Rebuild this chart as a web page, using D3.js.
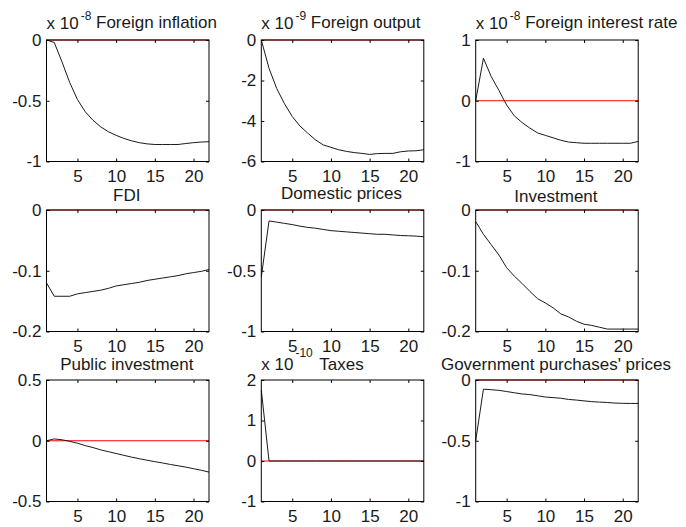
<!DOCTYPE html>
<html><head><meta charset="utf-8">
<script src="https://cdn.jsdelivr.net/npm/d3@7"></script>
<style>
body{margin:0;background:#fff;}
svg{font-family:"Liberation Sans",Arial,Helvetica,sans-serif;}
</style></head>
<body>
<script>
const periods = [1,2,3,4,5,6,7,8,9,10,11,12,13,14,15,16,17,18,19,20,21,22];
const xTicks = [5,10,15,20];

const titles = ["Foreign inflation","Foreign output","Foreign interest rate","FDI","Domestic prices","Investment","Public investment","Taxes","Government purchases' prices"];
const exponents = ["-8","-9","-8",null,null,null,null,"-10",null];
const yDomains = [[-1,0],[-6,0],[-1,1],[-0.2,0],[-1,0],[-0.2,0],[-0.5,0.5],[-1,2],[-1,0]];
const yTicks = [[-1,-0.5,0],[-6,-4,-2,0],[-1,0,1],[-0.2,-0.1,0],[-1,-0.5,0],[-0.2,-0.1,0],[-0.5,0,0.5],[-1,0,1,2],[-1,-0.5,0]];

const foreignInflation = [0,-0.02,-0.18,-0.35,-0.49,-0.59,-0.66,-0.715,-0.755,-0.785,-0.81,-0.83,-0.845,-0.855,-0.86,-0.86,-0.86,-0.86,-0.852,-0.845,-0.84,-0.837];
const foreignOutput = [0,-1.4,-2.4,-3.15,-3.78,-4.25,-4.6,-4.93,-5.18,-5.3,-5.42,-5.5,-5.56,-5.6,-5.65,-5.61,-5.6,-5.6,-5.52,-5.48,-5.47,-5.42];
const foreignInterest = [0,0.70,0.40,0.17,-0.07,-0.25,-0.36,-0.45,-0.53,-0.57,-0.61,-0.65,-0.68,-0.69,-0.70,-0.70,-0.70,-0.70,-0.70,-0.70,-0.70,-0.67];
const fdi = [-0.12,-0.142,-0.142,-0.142,-0.138,-0.136,-0.134,-0.132,-0.129,-0.125,-0.123,-0.121,-0.119,-0.116,-0.114,-0.112,-0.110,-0.108,-0.105,-0.103,-0.101,-0.098];
const domesticPrices = [-0.55,-0.09,-0.10,-0.11,-0.12,-0.133,-0.143,-0.15,-0.16,-0.17,-0.175,-0.18,-0.185,-0.19,-0.195,-0.20,-0.20,-0.205,-0.21,-0.212,-0.215,-0.22];
const investment = [-0.019,-0.04,-0.057,-0.074,-0.095,-0.109,-0.121,-0.134,-0.146,-0.153,-0.161,-0.171,-0.176,-0.183,-0.188,-0.19,-0.193,-0.196,-0.196,-0.196,-0.196,-0.196];
const publicInvestment = [0,0.015,0.008,-0.005,-0.02,-0.04,-0.056,-0.075,-0.09,-0.105,-0.12,-0.135,-0.148,-0.16,-0.172,-0.183,-0.195,-0.206,-0.217,-0.23,-0.243,-0.258];
const taxes = [1.75,0,0,0,0,0,0,0,0,0,0,0,0,0,0,0,0,0,0,0,0,0];
const govPrices = [-0.5,-0.075,-0.08,-0.085,-0.095,-0.105,-0.115,-0.12,-0.13,-0.14,-0.145,-0.15,-0.16,-0.165,-0.172,-0.178,-0.182,-0.185,-0.19,-0.192,-0.193,-0.193];

const seriesList = [foreignInflation,foreignOutput,foreignInterest,fdi,domesticPrices,investment,publicInvestment,taxes,govPrices];

const W = 686, H = 527;
const colLeft = [46.5, 261.3, 475.7], rowTop = [40, 210, 380];
const pw = 162.5, ph = 121.5;
const titleOffset = [-12.5,-12.5,-12.5,-9,-11.5,-8.5,-10.5,-10,-10.5];
const FS = 17, textColor = "#1a1a1a";

const svg = d3.select("body").append("svg").attr("width", W).attr("height", H);

seriesList.forEach((vals, i) => {
  const left = colLeft[i % 3], top = rowTop[Math.floor(i / 3)];
  const x = d3.scaleLinear().domain([1, 22]).range([left, left + pw]);
  const y = d3.scaleLinear().domain(yDomains[i]).range([top + ph, top]);
  const g = svg.append("g");

  // zero line
  g.append("line").attr("x1", x(1)).attr("x2", x(22)).attr("y1", y(0)).attr("y2", y(0))
    .attr("stroke", "#ff0000").attr("stroke-width", 1);

  // series
  const line = d3.line().x((d, k) => x(periods[k])).y(d => y(d));
  g.append("path").datum(vals).attr("d", line).attr("fill", "none")
    .attr("stroke", "#1a1a1a").attr("stroke-width", 1);

  // frame
  g.append("rect").attr("x", left).attr("y", top).attr("width", pw).attr("height", ph)
    .attr("fill", "none").attr("stroke", "#000").attr("stroke-width", 1);

  const fmt = d => String(d);
  const axL = g.append("g").attr("transform", `translate(${left},0)`)
    .call(d3.axisLeft(y).tickValues(yTicks[i]).tickSize(-3).tickPadding(5).tickFormat(fmt));
  const axR = g.append("g").attr("transform", `translate(${left + pw},0)`)
    .call(d3.axisRight(y).tickValues(yTicks[i]).tickSize(-3).tickFormat(""));
  const axB = g.append("g").attr("transform", `translate(0,${top + ph})`)
    .call(d3.axisBottom(x).tickValues(xTicks).tickSize(-3).tickPadding(8).tickFormat(fmt));
  const axT = g.append("g").attr("transform", `translate(0,${top})`)
    .call(d3.axisTop(x).tickValues(xTicks).tickSize(-3).tickFormat(""));
  [axL, axR, axB, axT].forEach(a => {
    a.select(".domain").remove();
    a.selectAll("line").attr("stroke", "#000");
    a.selectAll("text").attr("font-size", FS).attr("fill", textColor)
      .attr("font-family", '"Liberation Sans",Arial,sans-serif');
  });

  // title / exponent
  if (exponents[i] && i < 3) {
    const t = g.append("text").attr("x", left).attr("y", top - 11)
      .attr("font-size", FS).attr("fill", textColor);
    t.append("tspan").text("x 10");
    t.append("tspan").attr("dx", 2).attr("dy", -9).attr("font-size", 12).text(exponents[i]);
    t.append("tspan").attr("dy", 7.5).text(" " + titles[i]);
  } else {
    g.append("text").attr("x", left + pw / 2 - 1).attr("y", top + titleOffset[i])
      .attr("text-anchor", "middle").attr("font-size", FS).attr("fill", textColor).text(titles[i]);
    if (exponents[i]) {
      const t = g.append("text").attr("x", left).attr("y", top - 10)
        .attr("font-size", FS).attr("fill", textColor);
      t.append("tspan").text("x 10");
      t.append("tspan").attr("dx", 2).attr("dy", -13).attr("font-size", 12).text(exponents[i]);
    }
  }
});
</script>
</body></html>
